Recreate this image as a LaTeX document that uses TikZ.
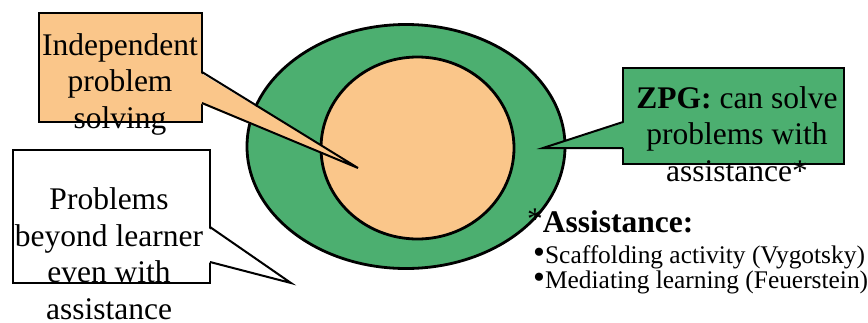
\documentclass[tikz,border=0pt]{standalone}
\usepackage{fontspec}
\setmainfont{Liberation Serif}
\usepackage{xcolor}
\definecolor{zpgGreen}{HTML}{4CAF70}
\definecolor{soloOrange}{HTML}{FAC68A}
\usetikzlibrary{shapes.geometric}

\newcommand{\notebullet}{{\fontsize{34}{34}\selectfont•}}

\begin{document}
\begin{tikzpicture}[
		x=1pt, y=-1pt,
		zone/.style={draw, ellipse, line width=2.8pt, inner sep=0pt},
		callbox/.style={draw, line width=2.4pt, inner sep=0pt},
		pointer/.style={line width=2pt, line join=miter},
		bigtext/.style={font=\fontsize{31.5}{36.5}\selectfont, align=center, inner sep=0pt, anchor=base},
		notetext/.style={font=\fontsize{25.4}{25}\selectfont, inner sep=0pt, anchor=base west}
		]
		\useasboundingbox (0,0) rectangle (868,322);
		
		% zones
		\node[zone, fill=zpgGreen, minimum width=318pt, minimum height=244pt] (zpd) at (406,146.5) {};
		\node[zone, fill=soloOrange, minimum width=193pt, minimum height=182pt] (solo) at (417.5,148) {};
		
		% callouts
		\coordinate (indeptip) at (358,168);
		\coordinate (zpgtip) at (543,148);
		\coordinate (beyondtip) at (291,283);
		
		\node[callbox, fill=soloOrange, minimum width=163pt, minimum height=109pt] (indepbox) at (120.5,67.5) {};
		\fill[soloOrange] (199,72) -- (indeptip) -- (199,103) -- cycle;
		\draw[pointer] (202,72) -- (indeptip) -- (202,103);
		
		\node[callbox, fill=white, minimum width=197pt, minimum height=133pt] (beyondbox) at (111.5,216.5) {};
		\fill[white] (207,227) -- (beyondtip) -- (207,262) -- cycle;
		\draw[pointer] (210,227) -- (beyondtip) -- (210,262);
		
		\node[callbox, fill=zpgGreen, minimum width=221pt, minimum height=96pt] (zpgbox) at (733.5,116) {};
		\fill[zpgGreen] (626,122) -- (zpgtip) -- (626,148) -- cycle;
		\draw[pointer] (623,122) -- (zpgtip) -- (623,148);
		
		% texts (base = last line)
		\node[bigtext] (indeptext) at (120,128) {Independent\\problem\\solving};
		\node[bigtext] (beyondtext) at (109,319) {Problems\\beyond learner\\even with\\assistance};
		\node[bigtext] (zpgtext) at (737,181) {\textbf{ZPG:} can solve\\problems with\\assistance*};
		
		\node[bigtext, anchor=base west] (assisthead) at (527,232) {\raisebox{3pt}{*}\textbf{Assistance:}};
		\node[notetext] (scaffold) at (533,263) {\notebullet Scaffolding activity (Vygotsky)};
		\node[notetext] (mediate) at (533,288) {\notebullet Mediating learning (Feuerstein)};
		
	\end{tikzpicture}
\end{document}
